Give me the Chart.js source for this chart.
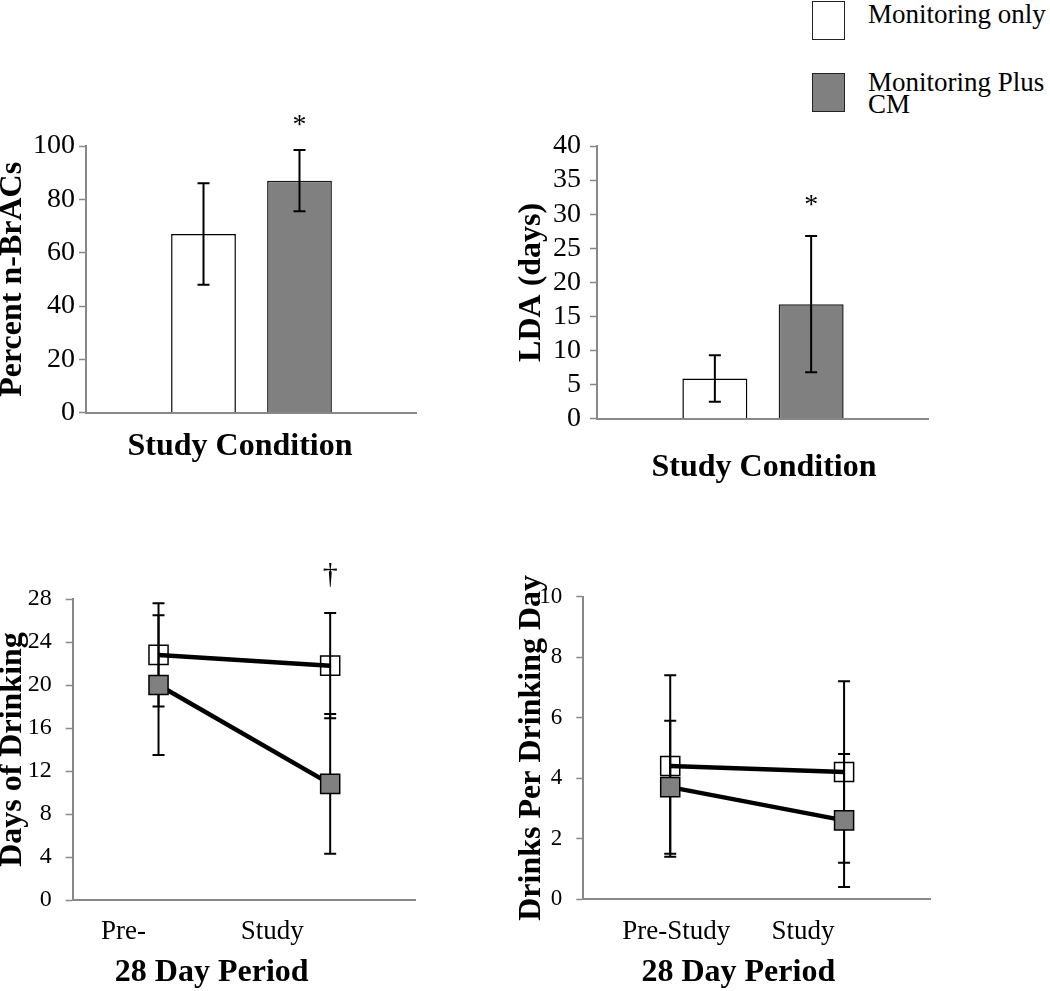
<!DOCTYPE html>
<html>
<head>
<meta charset="utf-8">
<title>Monitoring only vs Monitoring Plus CM</title>
<script src="https://cdn.jsdelivr.net/npm/chart.js"></script>
<style>
  body { margin: 0; width: 1050px; height: 991px; background: #fff; overflow: hidden; position: relative;
         font-family: 'Liberation Serif', 'Times New Roman', serif; }
  canvas { position: absolute; }
  .key { position: absolute; left: 812px; width: 33px; height: 39px; box-sizing: border-box; border: 1.5px solid #222; }
  .keytext { position: absolute; left: 868px; width: 182px; font-size: 27px; color: #000; }
</style>
</head>
<body>
<div id="legend"></div>
<canvas id="brac" width="420" height="380" style="left:-3px;top:100px"></canvas>
<canvas id="lda" width="413" height="390" style="left:516px;top:100px"></canvas>
<canvas id="days" width="419" height="436" style="left:-3px;top:555px"></canvas>
<canvas id="dpdd" width="415" height="431" style="left:516px;top:560px"></canvas>
<script>
const groups = ['Monitoring only', 'Monitoring Plus CM'];
const groupFills = ['#ffffff', '#808080'];

// top left: percent negative BrACs
const condition = ['Study Condition'];
const bracOnly = [67];
const bracOnlyErr = [19];
const bracCM = [87];
const bracCMErr = [11.5];

// top right: longest duration of abstinence
const ldaOnly = [5.9];
const ldaOnlyErr = [3.4];
const ldaCM = [16.8];
const ldaCMErr = [10];

// bottom: 28 day periods
const periods = ['Pre-Study', 'Study'];
const daysTicks = ['Pre-', 'Study'];
const dpddTicks = ['Pre-Study', 'Study'];

const daysOnly = [22.8, 21.8];
const daysOnlyErr = [4.8, 4.9];
const daysCM = [20.0, 10.8];
const daysCMErr = [6.5, 6.5];

const dpddOnly = [4.4, 4.2];
const dpddOnlyErr = [3.0, 3.0];
const dpddCM = [3.7, 2.6];
const dpddCMErr = [2.2, 2.2];

Chart.defaults.font.family = "'Liberation Serif', 'Times New Roman', serif";
Chart.defaults.color = '#000';

// legend block (top right)
const legend = document.getElementById('legend');
[[1, 1.3, 27], [72.7, 70.6, 22]].forEach(([boxTop, textTop, lh], i) => {
  const sw = document.createElement('div');
  sw.className = 'key';
  sw.style.top = boxTop + 'px';
  sw.style.background = groupFills[i];
  legend.appendChild(sw);
  const tx = document.createElement('div');
  tx.className = 'keytext';
  tx.style.top = textTop + 'px';
  tx.style.lineHeight = lh + 'px';
  tx.textContent = groups[i];
  legend.appendChild(tx);
});

function drawErrors(chart) {
  const ctx = chart.ctx, y = chart.scales.y;
  ctx.save();
  ctx.strokeStyle = '#000';
  ctx.lineWidth = 2;
  chart.data.datasets.forEach((ds, di) => {
    if (!ds.errors) return;
    chart.getDatasetMeta(di).data.forEach((el, i) => {
      const v = ds.data[i], e = ds.errors[i];
      const top = y.getPixelForValue(v + e), bot = y.getPixelForValue(v - e);
      ctx.beginPath();
      ctx.moveTo(el.x, top); ctx.lineTo(el.x, bot);
      ctx.moveTo(el.x - 6, top); ctx.lineTo(el.x + 6, top);
      ctx.moveTo(el.x - 6, bot); ctx.lineTo(el.x + 6, bot);
      ctx.stroke();
    });
  });
  ctx.restore();
}

const errorBars = {
  id: 'errorBars',
  beforeDatasetsDraw(chart, args, opts) { if (opts.layer === 'below') drawErrors(chart); },
  afterDatasetsDraw(chart, args, opts) { if (opts.layer !== 'below') drawErrors(chart); }
};

// x captions, shifted category labels and significance marks
const notes = {
  id: 'notes',
  afterDraw(chart, args, opts) {
    const { ctx, chartArea } = chart;
    const x = chart.scales.x, y = chart.scales.y;
    ctx.save();
    ctx.fillStyle = '#000';
    ctx.textAlign = 'center';
    ctx.textBaseline = 'middle';
    if (opts.ticks) {
      ctx.font = "27px 'Liberation Serif', serif";
      opts.ticks.forEach((t, i) => {
        ctx.fillText(t, x.getPixelForValue(i) + opts.tickShift[i], chartArea.bottom + opts.tickDy);
      });
    }
    ctx.font = "bold 32px 'Liberation Serif', serif";
    ctx.fillText(opts.title, chartArea.left + opts.titleDx, chartArea.bottom + opts.titleDy);
    (opts.marks || []).forEach(m => {
      const ds = chart.data.datasets[m.dataset];
      const el = chart.getDatasetMeta(m.dataset).data[m.index];
      const top = y.getPixelForValue(ds.data[m.index] + ds.errors[m.index]);
      ctx.font = m.font;
      ctx.fillText(m.text, el.x, top - m.gap);
    });
    ctx.restore();
  }
};

function yAxis(o) {
  return {
    min: 0, max: o.max,
    afterFit: s => { s.width = o.width; },
    ticks: { stepSize: o.step, autoSkip: false, padding: o.pad, color: '#000', font: { size: o.tickSize } },
    grid: { drawOnChartArea: false, drawTicks: true, tickLength: 7, tickColor: '#888', tickWidth: 1.5 },
    border: { color: '#888', width: 2 },
    title: { display: true, text: o.title, color: '#000', padding: 0,
             font: { size: 32, weight: 'bold', lineHeight: 1 } }
  };
}

function xAxis() {
  return {
    offset: true,
    afterFit: s => { s.height = 0; },
    ticks: { display: false },
    grid: { display: false },
    border: { color: '#888', width: 2 }
  };
}

function barSet(i, data, errors) {
  return {
    label: groups[i], data, errors,
    backgroundColor: groupFills[i],
    borderColor: i ? '#1a1a1a' : '#000',
    borderWidth: 1.5,
    categoryPercentage: 0.58,
    barPercentage: 0.675
  };
}

function lineSet(i, data, errors) {
  return {
    label: groups[i], data, errors,
    borderColor: '#000', borderWidth: 4.5, tension: 0,
    pointStyle: 'rect', pointRadius: 13.5, pointHoverRadius: 13.5,
    pointBackgroundColor: i ? '#808080' : 'rgba(255,255,255,0)',
    pointBorderColor: '#000', pointBorderWidth: 1.5
  };
}

function base(padding, scales, pluginOpts) {
  return {
    responsive: false,
    animation: false,
    layout: { padding, autoPadding: false },
    scales,
    plugins: Object.assign({ legend: { display: false }, tooltip: { enabled: false } }, pluginOpts)
  };
}

new Chart(document.getElementById('brac'), {
  type: 'bar',
  data: { labels: condition, datasets: [barSet(0, bracOnly, bracOnlyErr), barSet(1, bracCM, bracCMErr)] },
  options: base({ top: 46, right: 0, bottom: 67.3, left: 0 },
    { x: xAxis(), y: yAxis({ max: 100, step: 20, width: 89, pad: 4, tickSize: 28, title: 'Percent n-BrACs' }) },
    { errorBars: { layer: 'above' },
      notes: { title: condition[0], titleDx: 154, titleDy: 34.3,
               marks: [{ dataset: 1, index: 0, text: '*', gap: 24, font: "28px 'Liberation Serif', serif" }] } }),
  plugins: [errorBars, notes]
});

new Chart(document.getElementById('lda'), {
  type: 'bar',
  data: { labels: condition, datasets: [barSet(0, ldaOnly, ldaOnlyErr), barSet(1, ldaCM, ldaCMErr)] },
  options: base({ top: 46, right: 0, bottom: 71.3, left: 0 },
    { x: xAxis(), y: yAxis({ max: 40, step: 5, width: 81, pad: 9, tickSize: 28, title: 'LDA (days)' }) },
    { errorBars: { layer: 'above' },
      notes: { title: condition[0], titleDx: 167, titleDy: 49,
               marks: [{ dataset: 1, index: 0, text: '*', gap: 30, font: "28px 'Liberation Serif', serif" }] } }),
  plugins: [errorBars, notes]
});

new Chart(document.getElementById('days'), {
  type: 'line',
  data: { labels: periods, datasets: [lineSet(0, daysOnly, daysOnlyErr), lineSet(1, daysCM, daysCMErr)] },
  options: base({ top: 44, right: 0, bottom: 91, left: 0 },
    { x: xAxis(), y: yAxis({ max: 28, step: 4, width: 75.7, pad: 14, tickSize: 24, title: 'Days of Drinking' }) },
    { errorBars: { layer: 'below' },
      notes: { ticks: daysTicks, tickShift: [-35, -58], tickDy: 31.5, title: '28 Day Period', titleDx: 139, titleDy: 73,
               marks: [{ dataset: 0, index: 1, text: '\u2020', gap: 38, font: "30px 'Liberation Serif', serif" }] } }),
  plugins: [errorBars, notes]
});

new Chart(document.getElementById('dpdd'), {
  type: 'line',
  data: { labels: periods, datasets: [lineSet(0, dpddOnly, dpddOnlyErr), lineSet(1, dpddCM, dpddCMErr)] },
  options: base({ top: 36.7, right: 0, bottom: 92, left: 0 },
    { x: xAxis(), y: yAxis({ max: 10, step: 2, width: 67.3, pad: 14, tickSize: 23, title: 'Drinks Per Drinking Day' }) },
    { errorBars: { layer: 'below' },
      notes: { ticks: dpddTicks, tickShift: [6, -41], tickDy: 33, title: '28 Day Period', titleDx: 155, titleDy: 74 } }),
  plugins: [errorBars, notes]
});
</script>
</body>
</html>
